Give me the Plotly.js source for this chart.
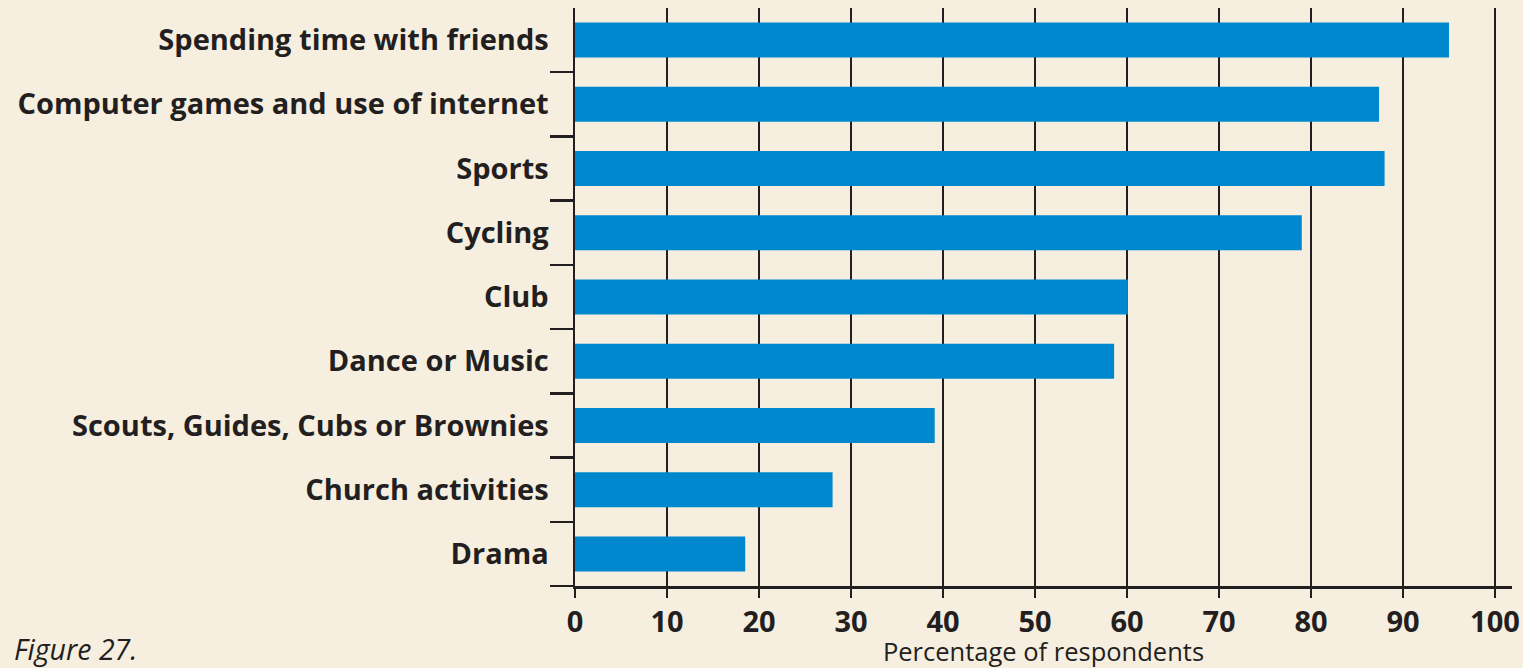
<!DOCTYPE html>
<html>
<head>
<meta charset="utf-8">
<script src="https://cdn.plot.ly/plotly-3.0.1.min.js"></script>
<style>
html,body{margin:0;padding:0;background:#f6eedf;}
#chart{width:1523px;height:668px;}
</style>
</head>
<body>
<div id="chart"></div>
<script>
const categories = [
  "Spending time with friends",
  "Computer games and use of internet",
  "Sports",
  "Cycling",
  "Club",
  "Dance or Music",
  "Scouts, Guides, Cubs or Brownies",
  "Church activities",
  "Drama"
];
const percentages = [95, 87.4, 88, 79, 60.1, 58.6, 39.1, 28, 18.5];
const xTickValues = [0, 10, 20, 30, 40, 50, 60, 70, 80, 90, 100];
const boundaryTicks = [0.5, 1.5, 2.5, 3.5, 4.5, 5.5, 6.5, 7.5, 8.5];

const ink = "#231f20";
const bg = "#f6eedf";
const fontFam = "'Open Sans', 'Noto Sans', sans-serif";

const traces = [{
  type: "bar",
  orientation: "h",
  y: categories,
  x: percentages,
  marker: {color: "#0088cf", line: {width: 0}},
  hoverinfo: "x+y"
}, {
  type: "scatter",
  mode: "markers",
  x: [null], y: [null],
  yaxis: "y2",
  showlegend: false,
  hoverinfo: "skip"
}];

const layout = {
  width: 1523,
  height: 668,
  paper_bgcolor: bg,
  plot_bgcolor: bg,
  showlegend: false,
  bargap: 0.455,
  margin: {l: 575, r: 11, t: 8, b: 82},
  font: {family: fontFam, color: ink},
  xaxis: {
    range: [0, 101.85],
    tickvals: xTickValues,
    ticktext: xTickValues.map(String),
    ticks: "outside",
    ticklen: 9,
    tickwidth: 2.5,
    tickcolor: ink,
    tickfont: {family: fontFam, size: 29, color: ink, weight: "bold"},
    showgrid: true,
    gridcolor: ink,
    gridwidth: 2.5,
    zeroline: false,
    showline: true,
    linecolor: ink,
    linewidth: 2.5,
    title: {text: "Percentage of respondents", font: {family: fontFam, size: 25.5, color: ink}, standoff: 5},
    fixedrange: true
  },
  yaxis: {
    type: "category",
    categoryorder: "array",
    categoryarray: categories,
    autorange: false,
    range: [8.5, -0.5],
    ticks: "outside",
    ticklen: 18,
    tickcolor: "rgba(0,0,0,0)",
    tickfont: {family: fontFam, size: 29, color: ink, weight: "bold"},
    showgrid: false,
    showline: true,
    linecolor: ink,
    linewidth: 2.5,
    zeroline: false,
    fixedrange: true
  },
  yaxis2: {
    overlaying: "y",
    side: "left",
    anchor: "x",
    range: [8.5, -0.5],
    tickvals: boundaryTicks,
    ticks: "outside",
    ticklen: 24,
    tickwidth: 2.5,
    tickcolor: ink,
    showticklabels: false,
    showgrid: false,
    zeroline: false,
    showline: false,
    fixedrange: true
  },
  annotations: [{
    text: "Figure 27.",
    xref: "paper", yref: "paper",
    x: -575/937, y: 0,
    xshift: 12,
    yshift: -63,
    xanchor: "left", yanchor: "middle",
    showarrow: false,
    font: {family: fontFam, size: 28.5, color: ink, style: "italic"}
  }]
};

Plotly.newPlot("chart", traces, layout, {displayModeBar: false, staticPlot: true});
</script>
</body>
</html>
